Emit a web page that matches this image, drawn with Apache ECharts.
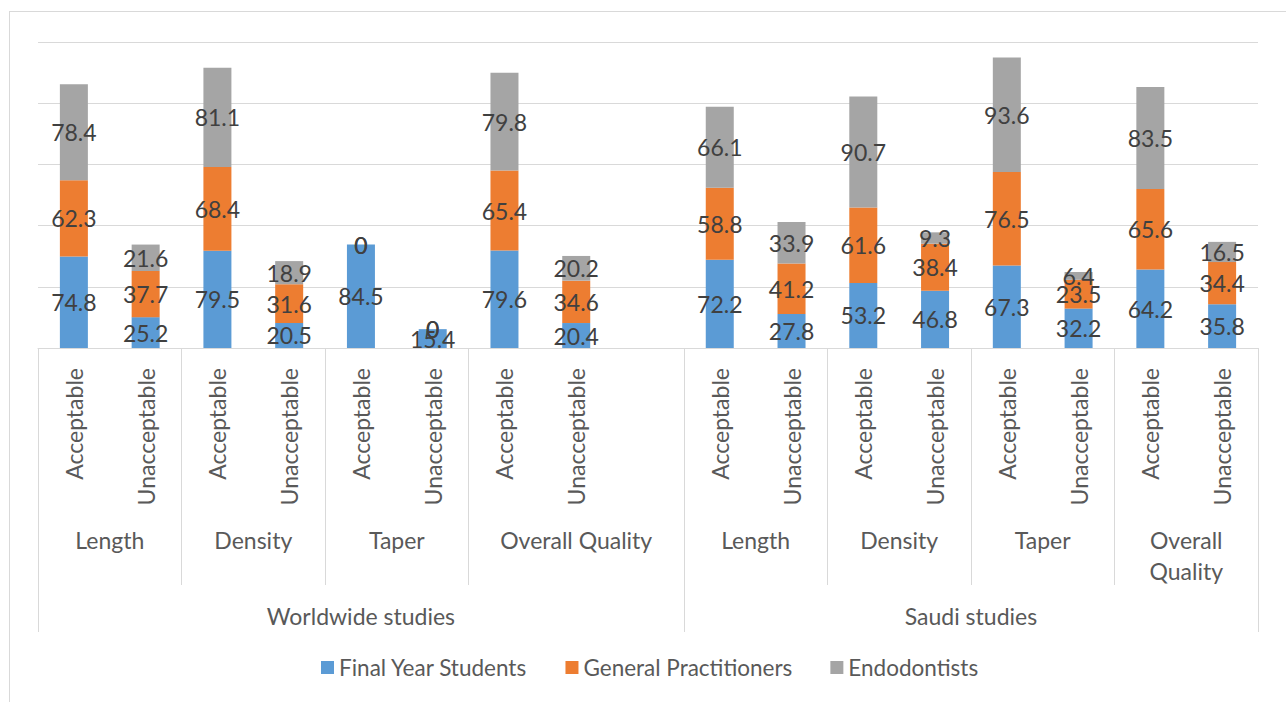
<!DOCTYPE html>
<html>
<head>
<meta charset="utf-8">
<script src="https://cdn.jsdelivr.net/npm/echarts@6/dist/echarts.min.js"></script>
<style>
html,body{margin:0;padding:0;background:#fff;}
#frame{position:absolute;left:9px;top:11px;width:1300px;height:720px;border:1px solid #d9d9d9;}
#chart{position:absolute;left:0;top:0;width:1286px;height:702px;}
</style>
</head>
<body>
<div id="frame"></div>
<div id="chart"></div>
<script>
// categories (one slot per bar, the empty slot pads the worldwide "Overall Quality" group)
var subCats = ['Acceptable','Unacceptable','Acceptable','Unacceptable','Acceptable','Unacceptable','Acceptable','Unacceptable','',
               'Acceptable','Unacceptable','Acceptable','Unacceptable','Acceptable','Unacceptable','Acceptable','Unacceptable'];
var groups = ['Length','Density','Taper','Overall Quality','Length','Density','Taper','Overall\nQuality'];
var groupSpans = [2,2,2,3,2,2,2,2];
var regions = ['Worldwide studies','Saudi studies'];
var regionSpans = [9,8];

// series values
var finalYear    = [74.8,25.2,79.5,20.5,84.5,15.4,79.6,20.4,'-',72.2,27.8,53.2,46.8,67.3,32.2,64.2,35.8];
var generalPract = [62.3,37.7,68.4,31.6,0,0,65.4,34.6,'-',58.8,41.2,61.6,38.4,76.5,23.5,65.6,34.4];
var endodontists = [78.4,21.6,81.1,18.9,0,0,79.8,20.2,'-',66.1,33.9,90.7,9.3,93.6,6.4,83.5,16.5];

var seriesNames = ['Final Year Students','General Practitioners','Endodontists'];
var colors = ['#5B9BD5','#ED7D31','#A5A5A5'];

// half-slot positions for the upper label levels (boundaryGap false, 2*n+1 points)
function buildLevel(names, spans){
  var n = subCats.length*2+1;
  var labels = [], ids = [], bounds = {0:true};
  for (var i=0;i<n;i++){ labels.push(''); ids.push('p'+i); }
  var s = 0;
  names.forEach(function(nm,k){
    labels[2*s+spans[k]] = nm;
    s += spans[k];
    bounds[2*s] = true;
  });
  return {labels:labels, ids:ids, bounds:bounds};
}
var lvl2 = buildLevel(groups, groupSpans);
var lvl3 = buildLevel(regions, regionSpans);

var font = 'Lato';
var fs = 23;
var gridCol = '#d9d9d9';

var chart = echarts.init(document.getElementById('chart'), null, {renderer:'svg'});
var option = {
  backgroundColor: 'transparent',
  animation: false,
  grid: {left:38, right:28, top:42, bottom:354, containLabel:false},
  legend: {
    top: 651, left: 316,
    itemWidth: 13, itemHeight: 13, itemGap: 38,
    icon: 'rect',
    textStyle: {fontFamily: font, fontSize: 22.5, color: '#595959'},
    data: seriesNames
  },
  xAxis: [
    {
      type: 'category', data: subCats,
      axisLine: {show:true, lineStyle:{color:gridCol, width:1}},
      axisTick: {show:false},
      axisLabel: {interval:0, rotate:90, margin:20, fontFamily:font, fontSize:fs, color:'#595959'}
    },
    {
      type: 'category', data: lvl2.ids, boundaryGap: false, position:'bottom',
      axisLine: {show:false},
      axisTick: {show:true, length:237, lineStyle:{color:gridCol, width:1},
                 interval: function(i){ return !!lvl2.bounds[i]; }},
      axisLabel: {interval:0, margin:176, fontFamily:font, fontSize:fs, lineHeight:31, color:'#595959',
                  formatter: function(v,i){ return lvl2.labels[i]; }}
    },
    {
      type: 'category', data: lvl3.ids, boundaryGap: false, position:'bottom',
      axisLine: {show:false},
      axisTick: {show:true, length:284, lineStyle:{color:gridCol, width:1},
                 interval: function(i){ return !!lvl3.bounds[i]; }},
      axisLabel: {interval:0, margin:252, fontFamily:font, fontSize:fs, lineHeight:31, color:'#595959',
                  formatter: function(v,i){ return lvl3.labels[i]; }}
    }
  ],
  yAxis: {
    type: 'value', min: 0, max: 250, interval: 50,
    axisLine: {show:false}, axisTick: {show:false}, axisLabel: {show:false},
    splitLine: {show:true, lineStyle:{color:gridCol, width:1}}
  },
  series: [finalYear, generalPract, endodontists].map(function(d,k){
    return {
      name: seriesNames[k], type: 'bar', stack: 'total', data: d,
      barWidth: 28, itemStyle: {color: colors[k]},
      label: {show:true, position:'inside', fontFamily:font, fontSize:fs, color:'#404040'}
    };
  })
};
chart.setOption(option);
</script>
</body>
</html>
